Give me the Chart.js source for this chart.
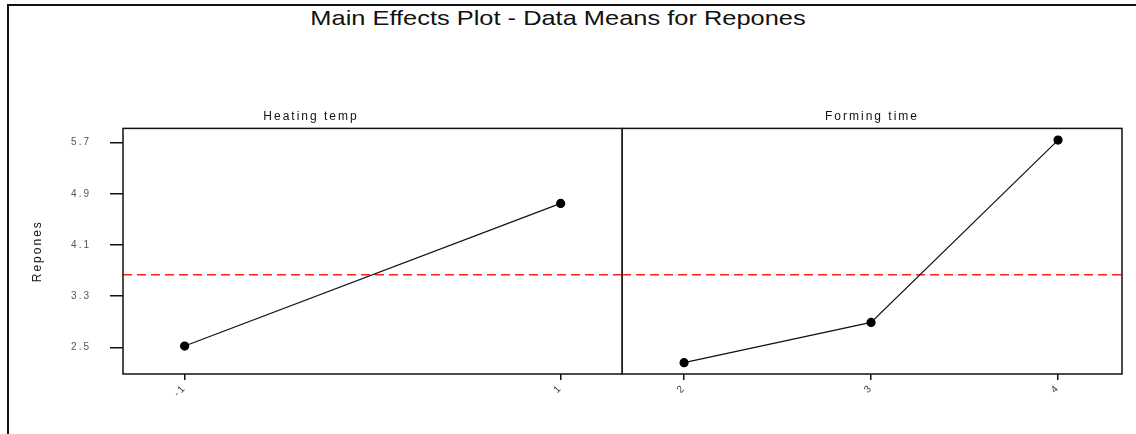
<!DOCTYPE html>
<html><head><meta charset="utf-8">
<script src="https://cdn.jsdelivr.net/npm/chart.js@4.4.0/dist/chart.umd.min.js"></script>
<style>
body{margin:0;background:#fff;width:1136px;height:434px;overflow:hidden;position:relative;font-family:"Liberation Sans",Arial,sans-serif}
#frame{position:absolute;left:7px;top:4px;width:1200px;height:500px;border-left:2px solid #111;border-top:2px solid #111}
#title{position:absolute;left:0;width:1116px;top:6px;text-align:center;font-size:21px;color:#111;white-space:nowrap;transform:scaleX(1.21);transform-origin:558px 0}
canvas{position:absolute;top:100px}
#c1{left:0}
#c2{left:622px}
</style></head><body>
<div id="frame"></div>
<div id="title">Main Effects Plot - Data Means for Repones</div>
<canvas id="c1" width="623" height="334"></canvas>
<canvas id="c2" width="514" height="334"></canvas>
<script>
const heatingLevels=["-1","1"];
const heatingMeans=[2.52,4.75];
const formingLevels=["2","3","4"];
const formingMeans=[2.26,2.89,5.74];
const grandMean=3.634;
const yTicks=[2.5,3.3,4.1,4.9,5.7];
const yMin=2.083,yMax=5.923;

Chart.defaults.font.family="'Liberation Sans', Arial, sans-serif";

// panel frame + dashed reference line at the overall mean
const panelBox={id:"panelBox",
  beforeUpdate(chart){chart.ctx.letterSpacing="2px";},
  beforeDatasetsDraw(chart){
    const {ctx,chartArea:a,scales:{y}}=chart,py=y.getPixelForValue(grandMean);
    ctx.save();ctx.strokeStyle="#ff1f1f";ctx.lineWidth=1.5;ctx.setLineDash([9,5]);
    ctx.beginPath();ctx.moveTo(a.left,py);ctx.lineTo(a.right,py);ctx.stroke();ctx.restore();
  },
  afterDraw(chart){
    const {ctx,chartArea:a}=chart;
    ctx.save();ctx.strokeStyle="#111";ctx.lineWidth=1.5;
    ctx.strokeRect(a.left,a.top,a.right-a.left,a.bottom-a.top);ctx.restore();
  }};

function makePanel(id,title,levels,means,xMin,xMax,showY,padRight){
  return new Chart(document.getElementById(id),{
    type:"line",
    data:{datasets:[{data:means.map((v,i)=>({x:i,y:v})),borderColor:"#111",borderWidth:1.2,
      pointRadius:4,pointBackgroundColor:"#000",pointBorderColor:"#000",tension:0}]},
    options:{responsive:false,animation:false,
      layout:{autoPadding:false,padding:{left:0,right:padRight,top:0,bottom:0}},
      plugins:{legend:{display:false},tooltip:{enabled:false},
        title:{display:true,text:title,color:"#111",font:{size:12,weight:"normal"},padding:{top:9,bottom:5}}},
      scales:{
        x:{type:"linear",min:xMin,max:xMax,
          afterBuildTicks:s=>{s.ticks=levels.map((l,i)=>({value:i}));},
          afterFit:s=>{s.height=60;s.paddingLeft=0;s.paddingRight=0;},
          grid:{drawOnChartArea:false,drawTicks:true,tickLength:6,color:"#111",lineWidth:1.5},
          border:{display:false},
          ticks:{minRotation:45,maxRotation:45,padding:2,color:"#444",font:{size:10},callback:v=>levels[v]}},
        y:{display:showY,min:yMin,max:yMax,
          afterBuildTicks:s=>{s.ticks=yTicks.map(v=>({value:v}));},
          afterFit:s=>{if(showY)s.width=123;},
          grid:{drawOnChartArea:false,tickLength:13,color:"#111",lineWidth:1.5},
          border:{display:false},
          title:{display:true,text:"Repones",color:"#111",font:{size:12},padding:{top:30,bottom:0}},
          ticks:{padding:19,color:"#555",font:{size:10},callback:v=>v.toFixed(1)}}
      }},
    plugins:[panelBox]});
}

makePanel("c1","Heating temp",heatingLevels,heatingMeans,-0.164,1.163,true,1);
makePanel("c2","Forming time",formingLevels,formingMeans,-0.332,2.342,false,14);
</script>
</body></html>
